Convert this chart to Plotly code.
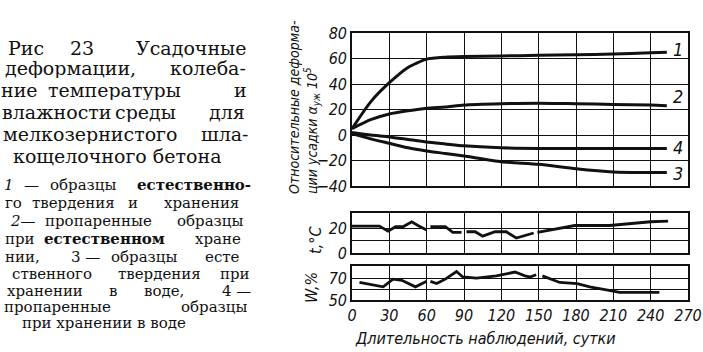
import plotly.graph_objects as go

W, H = 703, 352

# ---------------- data ----------------
days_main = [0, 15, 30, 45, 60, 75, 90, 120, 150, 180, 210, 240, 253]
curve1 = [5, 26, 41, 53, 59.5, 61, 61.5, 62, 62.5, 63, 63.5, 64.5, 65]
curve2 = [5, 12, 16.5, 19, 21, 22, 23.5, 24.5, 25, 24.5, 24, 23.5, 23]
curve3 = [1, -3, -6.5, -10, -12.5, -14.5, -16.5, -21, -23, -26.5, -29, -29.5, -29.5]
curve4 = [2, 0, -1.5, -3.5, -5.5, -7, -8.5, -10, -10.5, -10.5, -10.5, -10.5, -10.5]
curve_names = ["1", "2", "3", "4"]
curve_label_y = [67, 30, -30, -9.5]

temp_days = [0, 22, 29, 35, 41, 48, 53, 60, None, 63, 75, 81, 88, None,
             92, 99, 105, 115, 124, 132, 146, None, 149, 179, 207, 240, 254]
temp_vals = [21.5, 21.5, 17.5, 21, 21, 25, 22, 18.5, None, 21, 21, 16.5, 16.5, None,
             17, 17, 13.5, 17, 17, 12, 16, None, 16.5, 22, 22, 25, 25.5]

hum_days = [6, 25, 33, 40, 51, 60, None, 63, 68, 75, 84, 89, 100, 116, 131,
            139, 143, 148, None, 153, 167, 181, 191, 210, 215, 247]
hum_vals = [66, 62, 69, 68, 62, 67, None, 67, 65, 69, 76, 71, 70, 72, 75.5,
            72, 71, 73, None, 72, 66, 65, 62, 58, 57, 57]

x_ticks = [0, 30, 60, 90, 120, 150, 180, 210, 240, 270]
x_ticktext = ["0", "30", "60", "90", "120", "150", "180", "210", "240", "270"]
main_ticks = [-40, -20, 0, 20, 40, 60, 80]
temp_ticks = [0, 20]
temp_minor = [10]
hum_ticks = [50, 70]
hum_minor = [60]

main_title = "Относительные деформа-<br>ции усадки α<sub>уж</sub> 10<sup>5</sup>"
temp_title = "t,°C"
hum_title = "W,%"
x_title = "Длительность наблюдений, сутки"

# caption words: (text, left px, right px, style)
cap1_y = [47, 68, 90, 111, 133, 155]
cap1 = [
    [("Рис", 7, 45, ""), ("23", 67, 97, ""), ("Усадочные", 133, 248, "")],
    [("деформации,", 7, 133, ""), ("колеба-", 168, 248, "")],
    [("ние", 7, 32, ""), ("температуры", 50, 178, ""), ("и", 233, 248, "")],
    [("влажности", 7, 107, ""), ("среды", 115, 175, ""), ("для", 205, 248, "")],
    [("мелкозернистого", 7, 173, ""), ("шла-", 200, 248, "")],
    [("кощелочного бетона", 7, 227, "")],
]
cap2_y = [185, 203, 221, 239, 257, 274, 291, 307, 323]
cap2 = [
    [("1", 6, 12, "i"), ("—", 20, 43, ""), ("образцы", 47, 118, ""), ("естественно-", 135, 252, "b")],
    [("го", 7, 20, ""), ("твердения", 32, 115, ""), ("и", 128, 137, ""), ("хранения", 152, 250, "")],
    [("2—", 7, 38, "i"), ("пропаренные", 43, 153, ""), ("образцы", 167, 253, "")],
    [("при", 7, 33, ""), ("естественном", 52, 157, "b"), ("хране", 185, 250, "")],
    [("нии,", 7, 37, ""), ("3 —", 67, 103, ""), ("образцы", 107, 180, ""), ("есте", 200, 245, "")],
    [("ственного", 7, 97, ""), ("твердения", 112, 207, ""), ("при", 220, 250, "")],
    [("хранении", 7, 83, ""), ("в", 108, 117, ""), ("воде,", 140, 188, ""), ("4 —", 222, 250, "")],
    [("пропаренные", 7, 107, ""), ("образцы", 177, 250, "")],
    [("при хранении в воде", 7, 200, "")],
]

# ---------------- figure ----------------
INK = "#111111"
NARROW = "DejaVu Sans Condensed, Liberation Sans Narrow, Liberation Sans, sans-serif"
SERIF = "DejaVu Serif, Liberation Serif, serif"

fig = go.Figure()
for vals in (curve1, curve2, curve3, curve4):
    fig.add_trace(go.Scatter(x=days_main, y=vals, mode="lines",
                             line=dict(color=INK, width=3, shape="spline", smoothing=0.6),
                             xaxis="x", yaxis="y", showlegend=False, hoverinfo="skip"))
fig.add_trace(go.Scatter(x=temp_days, y=temp_vals, mode="lines", line=dict(color=INK, width=2.8),
                         xaxis="x2", yaxis="y2", showlegend=False, connectgaps=False, hoverinfo="skip"))
fig.add_trace(go.Scatter(x=hum_days, y=hum_vals, mode="lines", line=dict(color=INK, width=2.8),
                         xaxis="x3", yaxis="y3", showlegend=False, connectgaps=False, hoverinfo="skip"))

xdom = [352 / W, 688 / W]
def ydom(top, bottom):
    return [1 - bottom / H, 1 - top / H]

tickfont = dict(family=NARROW, size=16, color=INK, style="italic")
common = dict(showgrid=True, gridcolor=INK, gridwidth=1, showline=True, mirror=True,
              linecolor=INK, linewidth=1.6, zeroline=False, ticks="", automargin=False,
              tickfont=tickfont, fixedrange=True)
minor_style = dict(showgrid=True, gridcolor=INK, gridwidth=1, ticks="")

fig.update_layout(
    width=W, height=H, margin=dict(l=0, r=0, t=0, b=0),
    paper_bgcolor="white", plot_bgcolor="white", template="none", showlegend=False,
    xaxis=dict(domain=xdom, range=[0, 270], tickvals=x_ticks, showticklabels=False, anchor="y", **common),
    yaxis=dict(domain=ydom(33, 186), range=[-40, 80], tickvals=main_ticks, anchor="x", **common),
    xaxis2=dict(domain=xdom, range=[0, 270], tickvals=x_ticks, showticklabels=False, anchor="y2", **common),
    yaxis2=dict(domain=ydom(213, 253), range=[0, 32], tickvals=temp_ticks, anchor="x2",
                minor=dict(tickvals=temp_minor, **minor_style), **common),
    xaxis3=dict(domain=xdom, range=[0, 270], tickvals=x_ticks, ticktext=x_ticktext, anchor="y3", **common),
    yaxis3=dict(domain=ydom(266, 300), range=[50, 81], tickvals=hum_ticks, anchor="x3",
                minor=dict(tickvals=hum_minor, **minor_style), **common),
)

ann = []
for name, yv in zip(curve_names, curve_label_y):
    ann.append(dict(x=256, y=yv, xref="x", yref="y", text=name, showarrow=False,
                    xanchor="left", yanchor="middle",
                    font=dict(family=NARROW, size=18, color=INK, style="italic")))

def paper_text(x, y, text, size, angle=0, align="center"):
    ann.append(dict(x=x / W, y=1 - y / H, xref="paper", yref="paper", text=text, textangle=angle,
                    showarrow=False, xanchor="center", yanchor="middle", align=align,
                    font=dict(family=NARROW, size=size, color=INK, style="italic")))

paper_text(304, 107, main_title, 14, -90, "left")
paper_text(316, 240, temp_title, 16, -90)
paper_text(311, 288, hum_title, 16, -90)
paper_text(485, 338, x_title, 16)

def add_caption(lines, ys, size, box_h):
    for words, yc in zip(lines, ys):
        for text, l, r, st in words:
            t = text
            if "b" in st:
                t = "<b>" + t + "</b>"
            if "i" in st:
                t = "<i>" + t + "</i>"
            ann.append(dict(x=(l + r) / 2 / W, y=1 - yc / H, xref="paper", yref="paper", text=t,
                            showarrow=False, xanchor="center", yanchor="middle", height=box_h,
                            font=dict(family=SERIF, size=size, color=INK)))

add_caption(cap1, cap1_y, 19, 21)
add_caption(cap2, cap2_y, 15, 16)

fig.update_layout(annotations=ann)
fig.write_html("out.html")
